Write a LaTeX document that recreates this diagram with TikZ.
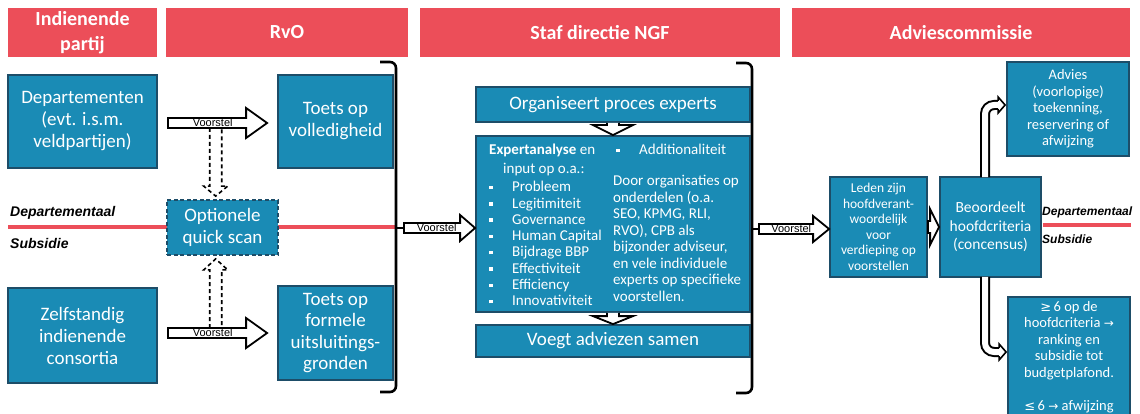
\documentclass[tikz,border=0pt]{standalone}
\usepackage{fontspec}
\setmainfont{Carlito}
\newfontfamily\arialf{Liberation Sans}
\newfontfamily\symf{DejaVu Sans}
\usetikzlibrary{calc}
\definecolor{boxblue}{HTML}{1A8BB5}
\definecolor{boxedge}{HTML}{1D4D68}
\definecolor{hdrred}{HTML}{EC4E59}
\newcommand\bul{\makebox[23pt][l]{\rule[2.5pt]{3.5pt}{3.5pt}}}
% horizontal block arrow: style, start, end, shaft half, head half, head length
\newcommand\harr[6]{\draw[#1] let \p1=(#2), \p2=(#3) in
  (\x1,\y1+#4) -- (\x2-#6,\y1+#4) -- (\x2-#6,\y1+#5) -- (\x2,\y1) -- (\x2-#6,\y1-#5) -- (\x2-#6,\y1-#4) -- (\x1,\y1-#4) -- cycle;}
% vertical block arrow: style, start, end, shaft half, head half, signed head offset
\newcommand\varr[6]{\draw[#1] let \p1=(#2), \p2=(#3) in
  (\x1-#4,\y1) -- (\x1-#4,\y2+#6) -- (\x1-#5,\y2+#6) -- (\x1,\y2) -- (\x1+#5,\y2+#6) -- (\x1+#4,\y2+#6) -- (\x1+#4,\y1);}
\tikzset{
  hdr/.style={fill=hdrred, draw=none, text=white, font=\fontsize{20}{25}\selectfont\bfseries, align=center, inner sep=0},
  bbox/.style={fill=boxblue, draw=boxedge, line width=1.8pt, text=white, align=center, inner sep=0},
  bigtxt/.style={font=\fontsize{19}{22}\selectfont},
  blockarrow/.style={draw=black, fill=white, line width=1.8pt, line join=miter},
  dasharrow/.style={draw=black, line width=1.6pt, dash pattern=on 4pt off 3pt},
  vlabel/.style={font=\arialf\fontsize{11}{11}\selectfont, inner sep=0},
  bracestyle/.style={draw=black, line width=2.6pt, rounded corners=6pt},
  redline/.style={draw=hdrred, line width=4pt},
  sidelabel/.style={font=\arialf\fontsize{14}{14}\selectfont\bfseries\itshape, inner sep=0, anchor=west},
  sidelabelsm/.style={font=\arialf\fontsize{12}{12}\selectfont\bfseries\itshape, inner sep=0, anchor=west},
  bendarrow/.style={draw=black, line width=2pt, double=white, double distance=6pt, rounded corners=9pt},
  smalltxt/.style={text=white, inner sep=0, align=left, font=\fontsize{15}{16.3}\selectfont},
}
\begin{document}
\begin{tikzpicture}[x=1pt,y=-1pt]
\useasboundingbox (0,0) rectangle (1140,414);
\clip (0,0) rectangle (1140,414);
\fill[white] (0,0) rectangle (1140,414);

% headers
\node[hdr, minimum width=149pt, minimum height=49pt] (h1) at (82.5,32.5) {Indienende\\partij};
\node[hdr, minimum width=242pt, minimum height=49pt] (h2) at (287,32.5) {RvO};
\node[hdr, minimum width=360pt, minimum height=49pt] (h3) at (600,32.5) {Staf directie NGF};
\node[hdr, minimum width=338pt, minimum height=49pt] (h4) at (961,32.5) {Adviescommissie};

% red lines and labels
\draw[redline] (8,227) -- (396,227);
\draw[redline] (1043,225) -- (1131,225);
\node[sidelabel] (dl1) at (10,213) {Departementaal};
\node[sidelabel] (sl1) at (10,243) {Subsidie};
\node[sidelabelsm] (dl2) at (1042,212) {Departementaal};
\node[sidelabelsm] (sl2) at (1042,239) {Subsidie};

% left boxes
\node[bbox, bigtxt, minimum width=149pt, minimum height=93pt] (dep) at (82.5,121.5) {Departementen\\(evt. i.s.m.\\veldpartijen)};
\node[bbox, bigtxt, minimum width=115pt, minimum height=93pt] (tvol) at (335.5,121.5) {Toets op\\volledigheid};
\node[bbox, bigtxt, dash pattern=on 4pt off 2.5pt, minimum width=111pt, minimum height=55pt] (qs) at (222.5,227.5) {Optionele\\quick scan};
\node[bbox, bigtxt, minimum width=149pt, minimum height=95pt] (zelf) at (82.5,335.5) {Zelfstandig\\indienende\\consortia};
\node[bbox, font=\fontsize{19}{21.3}\selectfont, minimum width=115pt, minimum height=94pt] (tfor) at (335.5,333) {Toets op\\formele\\uitsluitings-\\gronden};

% braces
\draw[bracestyle] (380,62) -- (396,62) -- (396,392) -- (380,392);
\coordinate (b1tip) at (404,228);
\draw[line width=2.6pt] (396,228) -- (b1tip);
\draw[bracestyle] (736,63) -- (752,63) -- (752,393) -- (736,393);
\coordinate (b2tip) at (759,229);
\draw[line width=2.6pt] (752,229) -- (b2tip);

% middle boxes
\node[bbox, bigtxt, minimum width=274pt, minimum height=35pt] (org) at (613,104.5) {Organiseert proces experts};
\node[bbox, minimum width=274pt, minimum height=176pt] (exp) at (613,224) {};
\node[bbox, bigtxt, minimum width=274pt, minimum height=32pt] (voegt) at (613,341) {Voegt adviezen samen};
\node[smalltxt, anchor=north west] (expL) at (489,144) {\textbf{Expertanalyse} en\\[2.7pt]
\hspace*{14pt}input op o.a.:\\[1.7pt]
\bul Probleem\\ \bul Legitimiteit\\ \bul Governance\\ \bul Human Capital\\
\bul Bijdrage BBP\\ \bul Effectiviteit\\ \bul Efficiency\\ \bul Innovativiteit};
\node[smalltxt, anchor=north west] (expR1) at (616,144) {\bul Additionaliteit};
\node[smalltxt, anchor=north west, font=\fontsize{15}{16.5}\selectfont] (expR2) at (613,175) {Door organisaties op\\onderdelen (o.a.\\SEO, KPMG, RLI,\\RVO), CPB als\\bijzonder adviseur,\\en vele individuele\\experts op specifieke\\voorstellen.};

% right boxes
\node[bbox, font=\fontsize{13.5}{15.5}\selectfont, minimum width=97pt, minimum height=100pt] (leden) at (878.5,227) {Leden zijn\\hoofdverant-\\woordelijk\\voor\\verdieping op\\voorstellen};
\node[bbox, font=\fontsize{15.5}{18.5}\selectfont, minimum width=101pt, minimum height=100pt] (beo) at (990.5,227) {Beoordeelt\\hoofdcriteria\\(concensus)};
\node[bbox, font=\fontsize{14.5}{16.5}\selectfont, minimum width=122pt, minimum height=94pt] (adv) at (1068,109) {Advies\\(voorlopige)\\toekenning,\\reservering of\\afwijzing};
\node[bbox, minimum width=122pt, minimum height=119pt] (ge6) at (1069,356.5) {};
\node[text=white, inner sep=0, align=center, anchor=north, font=\fontsize{14.5}{16.5}\selectfont] (ge6t) at ($(ge6.north)+(0,5)$) {{\symf\fontsize{13}{16.5}\selectfont ≥}\,6 op de\\hoofdcriteria {\symf\fontsize{12}{16.5}\selectfont →}\\ranking en\\subsidie tot\\budgetplafond.\\[16.5pt]{\symf\fontsize{13}{16.5}\selectfont ≤}\,6 {\symf\fontsize{12}{16.5}\selectfont →} afwijzing};

% Voorstel arrows
\harr{blockarrow}{$(dep.east)+(10,1.5)$}{$(tvol.west)+(-10,1.5)$}{5pt}{15pt}{21pt}
\node[vlabel] (v1) at ($(dep.east)!0.46!(tvol.west)+(0,1.5)$) {Voorstel};
\harr{blockarrow}{$(zelf.east |- tfor.west)+(10,0)$}{$(tfor.west)+(-10,0)$}{5pt}{15pt}{21pt}
\node[vlabel] (v2) at ($(zelf.east |- tfor.west)!0.46!(tfor.west)$) {Voorstel};
\harr{blockarrow}{b1tip}{exp.west |- b1tip}{5pt}{13pt}{15pt}
\node[vlabel] (v3) at ($(b1tip)!0.46!(exp.west |- b1tip)$) {Voorstel};
\harr{blockarrow}{b2tip}{leden.west |- b2tip}{5pt}{13pt}{16pt}
\node[vlabel] (v4) at ($(b2tip)!0.46!(leden.west |- b2tip)$) {Voorstel};
\harr{blockarrow}{leden.east}{beo.west}{6pt}{18pt}{9pt}

% dashed arrows to/from quick scan
\varr{dasharrow}{$(dep.east)!0.485!(tvol.west)+(0,6.5)$}{$(qs.north)+(-6.5,-3)$}{6pt}{12pt}{10pt}
\varr{dasharrow}{$(zelf.east |- tfor.west)!0.485!(tfor.west)+(0,-5)$}{$(qs.south)+(-6.5,3)$}{6pt}{12pt}{-11pt}

% small arrows in the middle column
\varr{blockarrow}{org.south}{exp.north}{6pt}{20pt}{10pt}
\varr{blockarrow}{exp.south}{voegt.north}{6pt}{20pt}{8pt}

% bent arrows from Beoordeelt
\draw[bendarrow] ($(beo.north)+(-5.5,1)$) |- ($(adv.west)+(-8,-4)$);
\draw[blockarrow, line width=1.6pt] ($(adv.west)+(-8,-8)$) -- ($(adv.west)+(-8,-12)$) -- ($(adv.west)+(-1,-4)$) -- ($(adv.west)+(-8,4)$) -- ($(adv.west)+(-8,0)$);
\draw[bendarrow] ($(beo.south)+(-5.5,-1)$) |- ($(ge6.west)+(-8,-4.5)$);
\draw[blockarrow, line width=1.6pt] ($(ge6.west)+(-8,-8.5)$) -- ($(ge6.west)+(-8,-12.5)$) -- ($(ge6.west)+(-1,-4.5)$) -- ($(ge6.west)+(-8,3.5)$) -- ($(ge6.west)+(-8,-0.5)$);
\end{tikzpicture}
\end{document}
